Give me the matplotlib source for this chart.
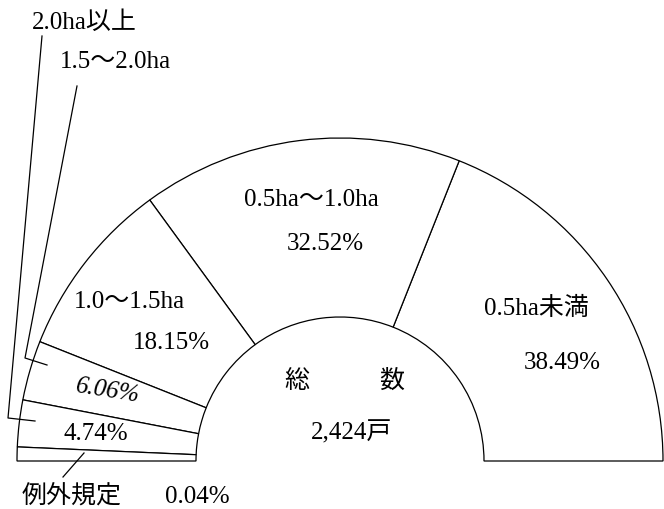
import numpy as np
import matplotlib.pyplot as plt
from matplotlib.patches import Wedge

# DATOS
categorias = ['0.5ha未満', '0.5ha～1.0ha', '1.0～1.5ha', '1.5～2.0ha', '2.0ha以上', '例外規定']
porcentajes = [38.49, 32.52, 18.15, 6.06, 4.74, 0.04]
total_txt = '2,424戸'

fuente = ['Liberation Serif', 'Noto Sans CJK JP']
tam = 18

fig = plt.figure(figsize=(6.64, 5.09), dpi=100)
ax = fig.add_axes([0, 0, 1, 1])
ax.set_xlim(0, 664)
ax.set_ylim(509, 0)
ax.axis('off')

# semicirculo: centro y radios en pixeles
cx, cy = 340, 461
r_ext, r_int = 323, 144

# angulos (el segmento muy chico se dibuja con un ancho minimo)
spans = np.array(porcentajes) * 180 / 100
min_span = 2.5
chico = spans < min_span
resto = 180 - min_span * chico.sum()
spans = np.where(chico, min_span, spans * resto / spans[~chico].sum())
bordes = np.concatenate([[0], np.cumsum(spans)])

for a0, a1 in zip(bordes[:-1], bordes[1:]):
    # eje y invertido -> angulos negativos
    w = Wedge((cx, cy), r_ext, -a1, -a0, width=r_ext - r_int,
              facecolor='white', edgecolor='black', linewidth=0.9)
    ax.add_patch(w)

# textos dentro de los segmentos
kw = dict(fontsize=tam, family=fuente, ha='center', va='center')
ax.text(536, 308, categorias[0], **kw)
ax.text(562, 363, f'{porcentajes[0]:.2f}%', **kw)
ax.text(311, 200, categorias[1], **kw)
ax.text(325, 244, f'{porcentajes[1]:.2f}%', **kw)
ax.text(129, 302, categorias[2], **kw)
ax.text(171, 343, f'{porcentajes[2]:.2f}%', **kw)
ax.text(108, 391, f'{porcentajes[3]:.2f}%', rotation=-9, style='italic', **kw)
ax.text(96, 434, f'{porcentajes[4]:.2f}%', **kw)

# centro
ax.text(297, 381, '総', **kw)
ax.text(392, 381, '数', **kw)
ax.text(352, 433, total_txt, **kw)

# etiquetas con lineas guia
ax.text(32, 23, categorias[4], fontsize=tam, family=fuente, ha='left', va='center')
ax.text(60, 62, categorias[3], fontsize=tam, family=fuente, ha='left', va='center')
ax.plot([42, 8, 35], [36, 418, 421], color='black', linewidth=0.9)
ax.plot([77, 25, 47], [86, 358, 365], color='black', linewidth=0.9)

ax.plot([84, 63], [453, 477], color='black', linewidth=0.9)
ax.text(22, 497, categorias[5], fontsize=tam, family=fuente, ha='left', va='center')
ax.text(165, 497, f'{porcentajes[5]:.2f}%', fontsize=tam, family=fuente, ha='left', va='center')

plt.savefig('out.png', dpi=100)
